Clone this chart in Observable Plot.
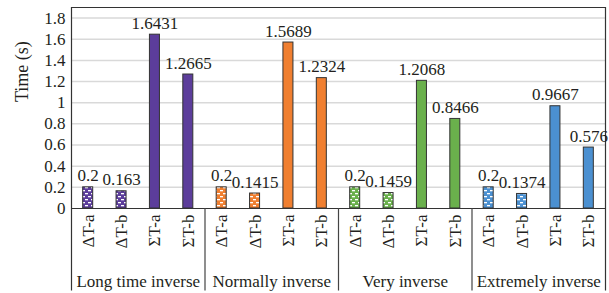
<!DOCTYPE html>
<html>
<head>
<meta charset="utf-8">
<script src="https://cdn.jsdelivr.net/npm/d3@7"></script>
<script src="https://cdn.jsdelivr.net/npm/@observablehq/plot@0.6"></script>
<style>
  html, body { margin: 0; padding: 0; background: #fff; }
  svg, svg text { font-family: "Liberation Serif", "DejaVu Serif", serif !important; }
</style>
</head>
<body>
<div id="chart"></div>
<script>
const groups = ["Long time inverse", "Normally inverse", "Very inverse", "Extremely inverse"];
const labels = ["ΔT-a", "ΔT-b", "ΣT-a", "ΣT-b"];
const longTimeInverse = [0.2, 0.163, 1.6431, 1.2665];
const normallyInverse = [0.2, 0.1415, 1.5689, 1.2324];
const veryInverse = [0.2, 0.1459, 1.2068, 0.8466];
const extremelyInverse = [0.2, 0.1374, 0.9667, 0.576];
const groupColors = ["#5c3d9b", "#f07f30", "#6ab04c", "#4b90d1"];
const yTicks = [0, 0.2, 0.4, 0.6, 0.8, 1, 1.2, 1.4, 1.6, 1.8];

const series = [longTimeInverse, normallyInverse, veryInverse, extremelyInverse];
const data = [];
series.forEach((vals, g) => {
  vals.forEach((v, j) => {
    const i = g * 4 + j;
    const patterned = j < 2;
    data.push({
      i, group: groups[g], label: labels[j], value: v,
      fill: patterned ? `url(#pat-${g})` : groupColors[g]
    });
  });
});
const groupData = groups.map((g, k) => ({ group: g, center: k * 4 + 1.5 }));
const innerSeps = [3.5, 7.5, 11.5];
const outerSeps = [-0.5, 15.5];
const BOTTOM = -0.78;
const TOP = 1.9;

const ink = "#231f20";
const font = "Liberation Serif";

const svg = Plot.plot({
  width: 609,
  height: 293,
  marginLeft: 71,
  marginRight: 4,
  marginTop: 7,
  marginBottom: 85,
  style: { fontSize: "17px", color: ink, background: "#fff" },
  x: { type: "linear", domain: [-0.5, 15.5], axis: null },
  y: { domain: [0, TOP], axis: null },
  color: { type: "identity" },
  marks: [
    Plot.ruleY(yTicks.filter(d => d > 0), { stroke: "#d9d9d9", strokeWidth: 1.5 }),
    Plot.ruleY([TOP], { stroke: "#333", strokeWidth: 1.2 }),
    Plot.rect(data, {
      x1: d => d.i - 0.15, x2: d => d.i + 0.15,
      y1: 0, y2: "value",
      fill: "fill", stroke: "#333", strokeWidth: 1
    }),
    Plot.ruleY([0], { stroke: "#333", strokeWidth: 1.2 }),
    Plot.ruleX(innerSeps, { y1: 0, y2: BOTTOM, stroke: "#444", strokeWidth: 1.2 }),
    Plot.ruleX(outerSeps, { y1: BOTTOM, y2: TOP, stroke: "#333", strokeWidth: 1.2 }),
    Plot.axisY({ ticks: yTicks, tickSize: 0, tickPadding: 6, tickFormat: d => String(d), label: null, fill: ink, fontSize: 17, fontFamily: font }),
    Plot.text(data, {
      x: "i", y: "value", text: d => String(d.value),
      lineAnchor: "bottom", dy: -6, fill: ink, fontSize: 17, fontFamily: font
    }),
    Plot.text(data, {
      x: "i", y: 0, text: "label", rotate: -90,
      textAnchor: "end", lineAnchor: "middle", dy: 6, fill: ink, fontSize: 17, fontFamily: font
    }),
    Plot.text(groupData, {
      x: "center", y: 0, text: "group",
      lineAnchor: "middle", dy: 73, fill: ink, fontSize: 17, fontFamily: font
    }),
    Plot.text(["Time (s)"], {
      frameAnchor: "left", dx: -49, dy: -6, rotate: -90,
      lineAnchor: "middle", fill: ink, fontSize: 18, fontFamily: font
    })
  ]
});

const defs = d3.select(svg).insert("defs", ":first-child");
groupColors.forEach((c, g) => {
  const p = defs.append("pattern")
    .attr("id", `pat-${g}`)
    .attr("patternUnits", "userSpaceOnUse")
    .attr("width", 6).attr("height", 6);
  p.append("rect").attr("width", 6).attr("height", 6).attr("fill", c);
  p.append("rect").attr("x", 1).attr("y", 1).attr("width", 3).attr("height", 1.3).attr("fill", "#fff");
  p.append("rect").attr("x", 4).attr("y", 4).attr("width", 3).attr("height", 1.3).attr("fill", "#fff");
  p.append("rect").attr("x", -2).attr("y", 4).attr("width", 3).attr("height", 1.3).attr("fill", "#fff");
});

document.getElementById("chart").appendChild(svg);
</script>
</body>
</html>
